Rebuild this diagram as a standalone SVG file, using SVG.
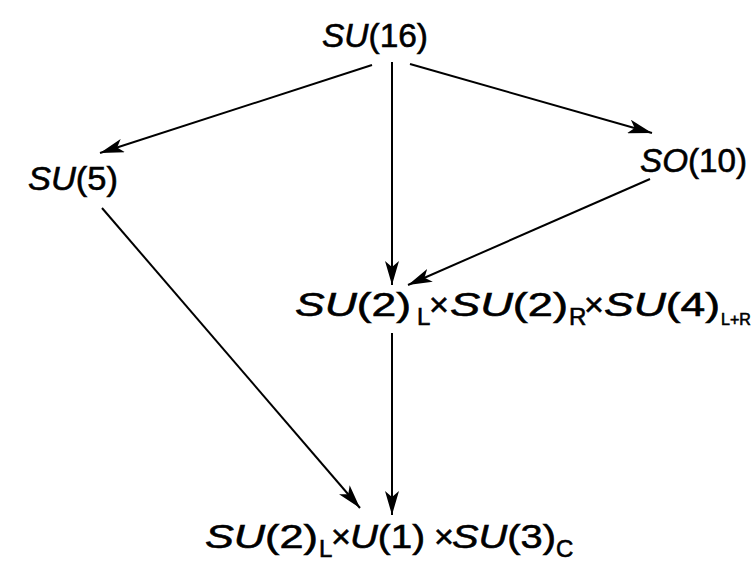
<svg xmlns="http://www.w3.org/2000/svg" width="755" height="570" viewBox="0 0 755 570">
<style>
.t{font-family:"Liberation Sans",Arial,sans-serif;font-size:34px;fill:#000;stroke:#000;stroke-width:0.6}
.i{font-style:italic}
.s{font-size:24px}
.c{stroke:#000;stroke-width:2;fill:none;marker-end:url(#ah)}
</style>
<defs>
<marker id="ah" markerUnits="userSpaceOnUse" markerWidth="26" markerHeight="14" refX="24" refY="7" orient="auto">
<path d="M0,0 L24,7 L0,14 L6,7 z" fill="#000"/>
</marker>
</defs>
<rect width="755" height="570" fill="#fff"/>
<g id="connectors">
<line class="c" x1="372" y1="65" x2="100" y2="153"/>
<line class="c" x1="392" y1="62" x2="392" y2="285"/>
<line class="c" x1="410" y1="64" x2="652" y2="133"/>
<line class="c" x1="650" y1="179" x2="408" y2="285"/>
<line class="c" x1="102" y1="208" x2="360" y2="508"/>
<line class="c" x1="392" y1="333" x2="392" y2="515"/>
</g>
<g id="su16"><text class="t" x="322" y="47" textLength="106" lengthAdjust="spacingAndGlyphs"><tspan class="i">SU</tspan>(16)</text></g>
<g id="su5"><text class="t" x="28" y="190" textLength="90" lengthAdjust="spacingAndGlyphs"><tspan class="i">SU</tspan>(5)</text></g>
<g id="so10"><text class="t" x="640" y="172" textLength="107" lengthAdjust="spacingAndGlyphs"><tspan class="i">SO</tspan>(10)</text></g>
<g id="middle">
<text class="t" x="295" y="316" textLength="116" lengthAdjust="spacingAndGlyphs"><tspan class="i">SU</tspan>(2)</text>
<text class="t s" x="417" y="325">L</text>
<text class="t" x="429" y="316">×</text>
<text class="t" x="450" y="316" textLength="118" lengthAdjust="spacingAndGlyphs"><tspan class="i">SU</tspan>(2)</text>
<text class="t s" x="569" y="325">R</text>
<text class="t" x="584" y="316">×</text>
<text class="t" x="604" y="316" textLength="116" lengthAdjust="spacingAndGlyphs"><tspan class="i">SU</tspan>(4)</text>
<text class="t" x="721" y="325" style="font-size:16px">L+R</text>
</g>
<g id="bottom">
<text class="t" x="205" y="548" textLength="113" lengthAdjust="spacingAndGlyphs"><tspan class="i">SU</tspan>(2)</text>
<text class="t s" x="319" y="557">L</text>
<text class="t" x="331" y="548">×</text>
<text class="t" x="350" y="548" textLength="75" lengthAdjust="spacingAndGlyphs"><tspan class="i">U</tspan>(1)</text>
<text class="t" x="434" y="548">×</text>
<text class="t" x="452" y="548" textLength="104" lengthAdjust="spacingAndGlyphs"><tspan class="i">SU</tspan>(3)</text>
<text class="t s" x="556" y="557">C</text>
</g>
</svg>
